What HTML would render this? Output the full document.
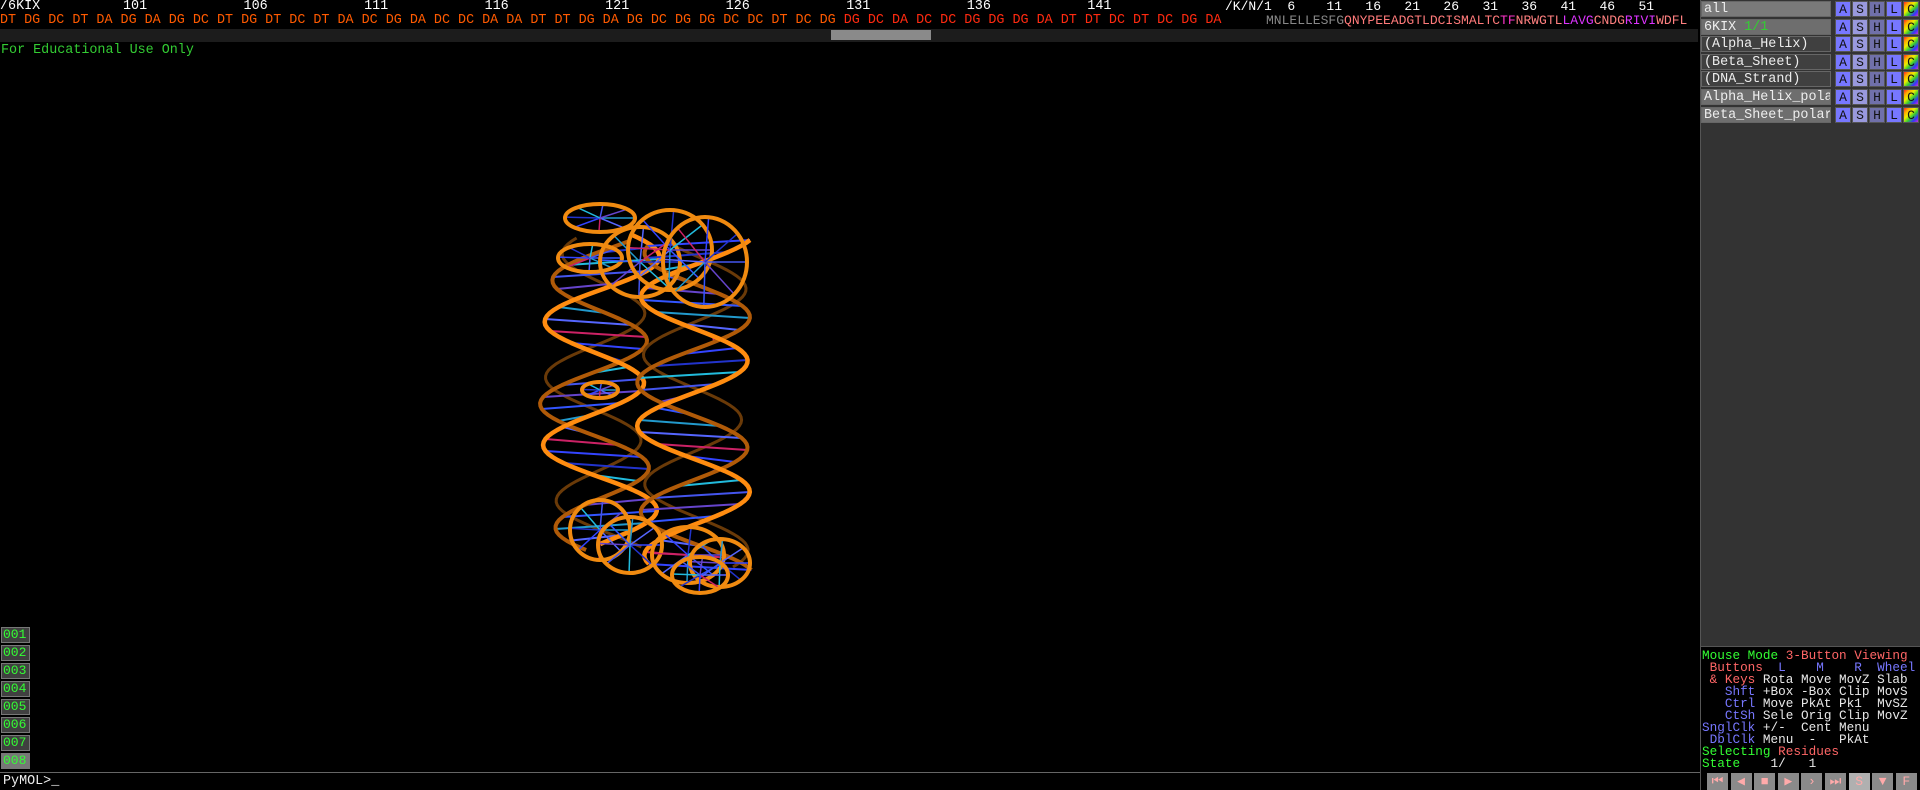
<!DOCTYPE html>
<html><head><meta charset="utf-8">
<style>
html,body{margin:0;padding:0;background:#000;width:1920px;height:790px;overflow:hidden;position:relative;font-family:"Liberation Mono",monospace;}
.a{position:absolute;white-space:pre;line-height:14px;font-size:13.4px;}
.row{position:absolute;left:1700px;width:220px;height:17px;}
.nm{position:absolute;left:1px;top:0;width:130px;height:16px;border:1px solid #666;box-sizing:border-box;color:#eee;font-size:13.4px;line-height:15px;padding-left:2px;white-space:pre;overflow:hidden;background:#404040;}
.b{position:absolute;top:0;width:16px;height:16px;box-sizing:border-box;border:1px solid #555;color:#111;font-size:13px;line-height:15px;text-align:center;}
.fr{position:absolute;left:1px;width:29px;height:16px;box-sizing:border-box;border:1px solid #777;background:#404040;color:#3f3;font-size:13px;line-height:14px;padding-left:1px;}
.pb{position:absolute;top:773px;width:21px;height:17px;background:#8a8a8a;color:#ffaaaa;font-size:13px;line-height:17px;text-align:center;}
</style></head><body>
<div style="position:absolute;left:0;top:0;width:1700px;height:42px;background:#000;">
 <div class="a" style="left:0;top:0;color:#fff;">/6KIX</div>
 <div class="a" style="left:123px;top:0;color:#fff;">101            106            111            116            121            126            131            136            141</div>
 <div class="a" style="left:1225px;top:0;color:#fff;font-size:13px;">/K/N/1  6    11   16   21   26   31   36   41   46   51</div>
 <div class="a" style="left:0;top:14px;color:#ff5a00;">DT DG DC DT DA DG DA DG DC DT DG DT DC DT DA DC DG DA DC DC DA DA DT DT DG DA DG DC DG DG DC DC DT DC DG <span style="color:#ff2a10">DG DC DA DC DC DG DG DG DA DT DT DC DT DC DG DA</span></div>
 <div class="a" style="left:1266px;top:14px;font-size:13px;color:#888;">MNLELLESFG<span style="color:#ff7a7a">QNYPEEADGTLDCISMALTC</span><span style="color:#ff33cc">TF</span><span style="color:#ff8080">NRWGTL</span><span style="color:#dd33ff">LAVG</span><span style="color:#ff8080">CNDG</span><span style="color:#dd33ff">RIVI</span><span style="color:#ff8080">WDFL</span></div>
 <div style="position:absolute;left:0;top:29px;width:1698px;height:13px;background:#1c1c1c;"></div>
 <div style="position:absolute;left:831px;top:30px;width:100px;height:10px;background:#8a8a8a;"></div>
</div>
<div class="a" style="left:1px;top:44px;color:#3c3;">For Educational Use Only</div>

<svg id="mol" style="position:absolute;left:0;top:0" width="1700" height="770"></svg>

<div style="position:absolute;left:1700px;top:0;width:220px;height:646px;background:#333;border-left:1px solid #555;box-sizing:border-box;"></div>
<div id="objs"></div>

<div style="position:absolute;left:1700px;top:646px;width:220px;height:144px;background:#000;border-left:1px solid #555;border-top:1px solid #555;box-sizing:border-box;"></div>
<div class="a" style="left:1702px;top:650px;line-height:12px;font-size:12.7px;color:#e8e8e8;"><span style="color:#3f3">Mouse Mode </span><span style="color:#f66">3-Button Viewing</span>
<span style="color:#f66"> Buttons</span><span style="color:#77f">  L    M    R  Wheel</span>
<span style="color:#f66"> &amp; Keys</span> Rota Move MovZ Slab
<span style="color:#77f">   Shft</span> +Box -Box Clip MovS
<span style="color:#77f">   Ctrl</span> Move PkAt Pk1  MvSZ
<span style="color:#77f">   CtSh</span> Sele Orig Clip MovZ
<span style="color:#77f">SnglClk</span> +/-  Cent Menu
<span style="color:#77f"> DblClk</span> Menu  -   PkAt
<span style="color:#3f3">Selecting </span><span style="color:#f66">Residues</span>
<span style="color:#3f3">State</span>    1/   1</div>
<div id="pbs"></div>
<div id="frames"></div>
<div style="position:absolute;left:0;top:772px;width:1700px;height:1px;background:#666;"></div>
<div class="a" style="left:3px;top:775px;color:#eee;">PyMOL&gt;_</div>

<script>
var names=["all","6KIX 1/1","(Alpha_Helix)","(Beta_Sheet)","(DNA_Strand)","Alpha_Helix_pola","Beta_Sheet_polar"];
var bgs=["#7a7a7a","#6e6e6e","#404040","#404040","#404040","#6e6e6e","#6e6e6e"];
var objs=document.getElementById('objs');
names.forEach(function(n,i){
  var r=document.createElement('div');r.className='row';r.style.top=(i*17.6+1)+'px';
  
  
  var nm=document.createElement('div');nm.className='nm';nm.style.background=bgs[i];
  nm.innerHTML=n==="6KIX 1/1"?'6KIX <span style="color:#3c3">1/1</span>':n;
  
  
  r.appendChild(nm);
  var L=["A","S","H","L","C"],C=["#7777ff","#9999dd","#7070aa","#7777ff","linear-gradient(135deg,#f22,#fa0,#ee0,#3c3,#33f,#c3c)"];
  L.forEach(function(l,j){var b=document.createElement('div');b.className='b';b.style.left=(135+j*17)+'px';b.style.background=C[j];b.textContent=l;
    
    
    r.appendChild(b);});
  objs.appendChild(r);
});
var sy=["⏮","◀","■","▶","›","⏭","S","▼","F"];
var pbs=document.getElementById('pbs');
sy.forEach(function(s,i){var b=document.createElement('div');b.className='pb';b.style.left=(1707+i*23.6)+'px';b.textContent=s;
  if(s==="S"){b.style.background="#b0b0b0";}
  
  
  pbs.appendChild(b);});
var fr=document.getElementById('frames');
for(var i=1;i<=8;i++){var f=document.createElement('div');f.className='fr';f.style.top=(627+(i-1)*18)+'px';f.textContent='00'+i;
  if(i===8)f.style.background='#777';
  
  
  fr.appendChild(f);}
var svg=document.getElementById('mol'),NS="http://www.w3.org/2000/svg";
function add(tag,at){var e=document.createElementNS(NS,tag);for(var k in at)e.setAttribute(k,at[k]);svg.appendChild(e);return e;}
var pal=["#3344ff","#2233cc","#22bbdd","#4455ee","#6644cc","#3355ff","#2299cc","#5566ff","#cc2266"];
function duplex(cx,y0,y1,amp,per,ph,drift){
  var s1=[],s2=[],s3=[];
  for(var y=y0;y<=y1;y+=3){var t=(y-y0)/per*2*Math.PI+ph;var c=cx+drift*Math.sin((y-y0)/(y1-y0)*Math.PI);
    s1.push([c+amp*Math.sin(t),y]);s2.push([c+amp*Math.sin(t+2.4),y+6]);s3.push([c+amp*0.9*Math.sin(t+3.6),y+3]);}
  var d3="M"+s3.map(function(p){return p[0].toFixed(1)+" "+p[1];}).join(" L");
  var p3=add('path',{d:d3,fill:'none',stroke:'#6a3a08','stroke-width':3});
  
  
  for(var k=0;k<s1.length;k+=4){var col=pal[(k*7)%pal.length];
    var l=add('line',{x1:s1[k][0],y1:s1[k][1],x2:s2[k][0],y2:s2[k][1],stroke:col,'stroke-width':2});
    
    }
  [s2,s1].forEach(function(s,j){var d="M"+s.map(function(p){return p[0].toFixed(1)+" "+p[1];}).join(" L");
    var p=add('path',{d:d,fill:'none',stroke:j?'#ff8c10':'#b05a08','stroke-width':j?4.5:4,'stroke-linejoin':'round'});
    
    });
}
duplex(612,235,545,52,125,0.4,-20);
duplex(700,240,565,55,130,2.0,-8);
var loops=[[600,218,35,14],[590,258,32,14],[640,262,40,35],[670,250,42,40],[705,262,42,45],[600,530,30,30],[630,545,32,28],[688,555,36,28],[720,563,30,24],[700,575,28,18],[600,390,18,8]];
loops.forEach(function(c){
  for(var k=0;k<8;k++){var a=k*0.8;var l=add('line',{x1:c[0],y1:c[1],x2:c[0]+c[2]*Math.cos(a),y2:c[1]+c[3]*Math.sin(a),stroke:pal[(k+c[0])%pal.length],'stroke-width':1.5});
    
    }
  var e=add('ellipse',{cx:c[0],cy:c[1],rx:c[2],ry:c[3],fill:'none',stroke:'#f08a10','stroke-width':4});
  
  
});
</script>
</body></html>
